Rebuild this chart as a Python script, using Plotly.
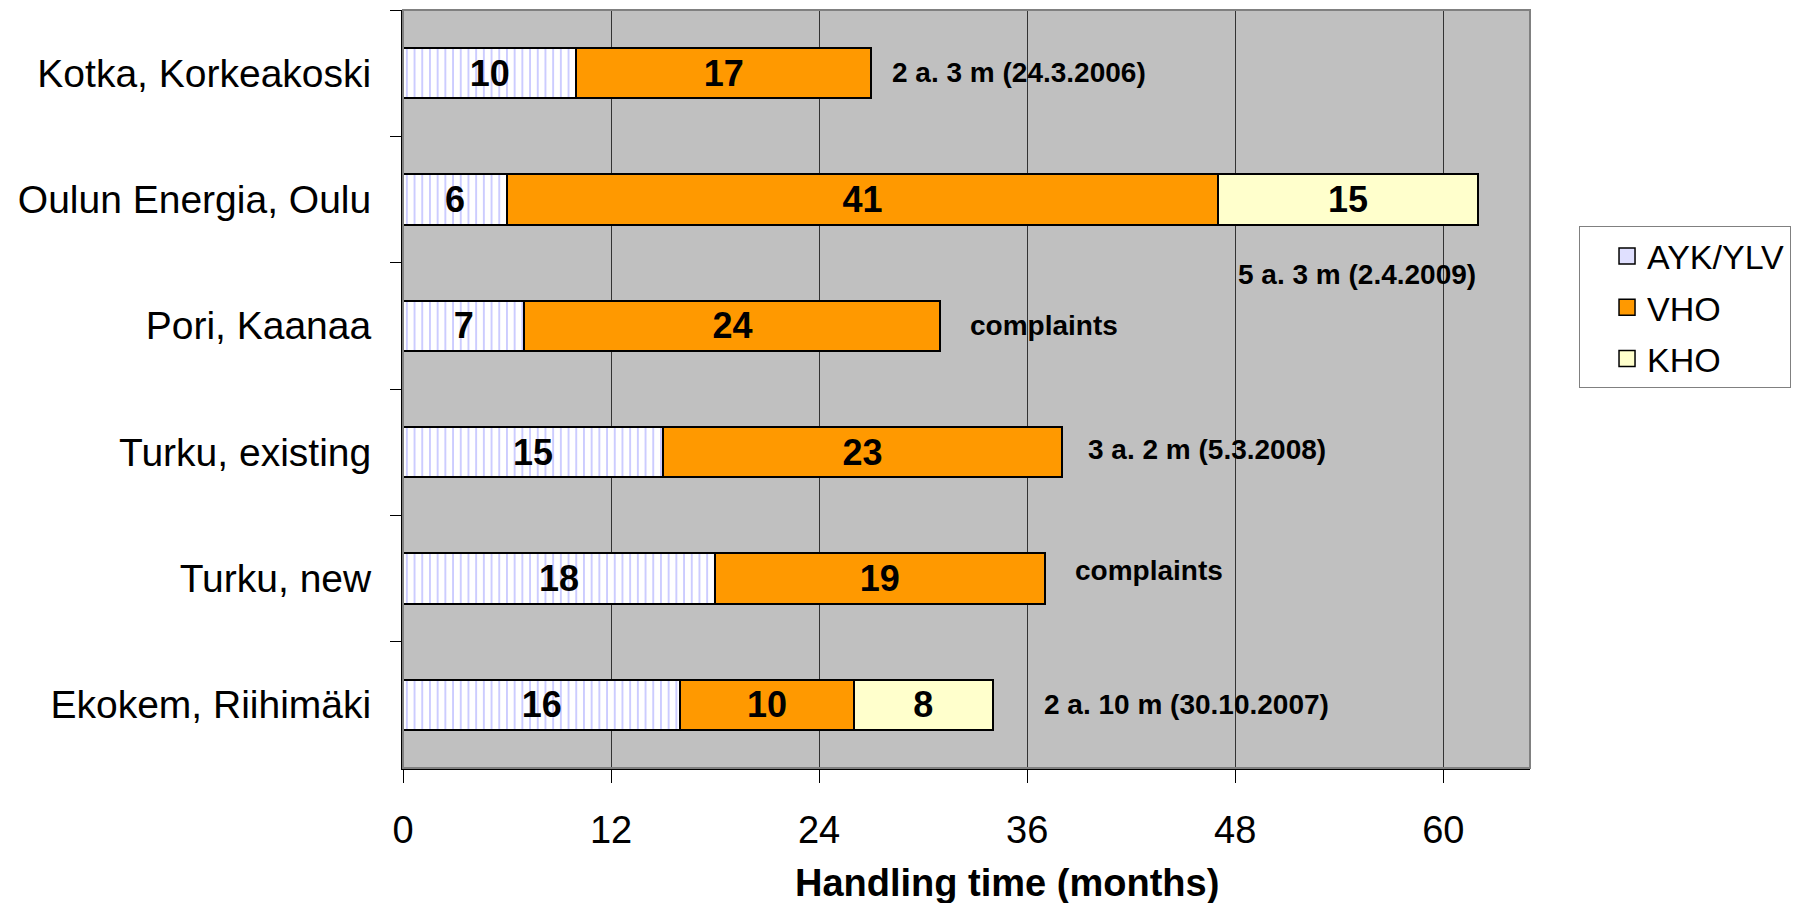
import plotly.graph_objects as go

categories = ["Kotka, Korkeakoski", "Oulun Energia, Oulu", "Pori, Kaanaa",
              "Turku, existing", "Turku, new", "Ekokem, Riihimäki"]
ayk_ylv = [10, 6, 7, 15, 18, 16]
vho = [17, 41, 24, 23, 19, 10]
kho = [None, 15, None, None, None, 8]
series_names = ["AYK/YLV", "VHO", "KHO"]
end_notes = ["2 a. 3 m (24.3.2006)", "5 a. 3 m (2.4.2009)", "complaints",
             "3 a. 2 m (5.3.2008)", "complaints", "2 a. 10 m (30.10.2007)"]
x_ticks = [0, 12, 24, 36, 48, 60]

FONT = "Liberation Sans, Arial, sans-serif"

fig = go.Figure()
common = dict(orientation="h", y=categories, texttemplate="%{x}",
              textposition="inside", insidetextanchor="middle",
              textfont=dict(family=FONT, size=36, color="black", weight="bold"),
              constraintext="none", showlegend=False)
fig.add_trace(go.Bar(name=series_names[0], x=ayk_ylv,
                     marker=dict(color="white", line=dict(color="black", width=2),
                                 pattern=dict(shape="|", fgcolor="#8080FF", bgcolor="white",
                                              size=7.7, solidity=0.2)),
                     **common))
fig.add_trace(go.Bar(name=series_names[1], x=vho,
                     marker=dict(color="#FF9900", line=dict(color="black", width=2)),
                     **common))
fig.add_trace(go.Bar(name=series_names[2], x=kho,
                     marker=dict(color="#FFFFCC", line=dict(color="black", width=2)),
                     **common))

# legend proxies (bigger square symbols than the bar legend icons)
legend_fill = ["#E0E0FF", "#FF9900", "#FFFFCC"]
for i, nm in enumerate(series_names):
    fig.add_trace(go.Scatter(name=nm, x=[None], y=[None], mode="markers",
                             legendgroup=nm, showlegend=True, hoverinfo="skip",
                             marker=dict(symbol="square", size=16, color=legend_fill[i],
                                         line=dict(color="black", width=1.5))))

# end-of-bar notes
note_style = [dict(xshift=19, yshift=1, xanchor="left"),
              dict(xshift=0, yshift=-75, xanchor="right"),
              dict(xshift=28, yshift=0, xanchor="left"),
              dict(xshift=24, yshift=3, xanchor="left"),
              dict(xshift=28, yshift=8, xanchor="left"),
              dict(xshift=49, yshift=0, xanchor="left")]
for i, cat in enumerate(categories):
    total = sum(v for v in (ayk_ylv[i], vho[i], kho[i]) if v is not None)
    fig.add_annotation(x=total, y=cat, text=end_notes[i], showarrow=False,
                       font=dict(family=FONT, size=28, color="black", weight="bold"),
                       yanchor="middle", **note_style[i])

fig.add_annotation(text="Handling time (months)", xref="paper", yref="paper",
                   x=0.536, y=-0.152, showarrow=False, xanchor="center", yanchor="middle",
                   font=dict(family=FONT, size=38, color="black", weight="bold"))

fig.add_shape(type="rect", xref="paper", yref="paper", x0=0, y0=0, x1=1, y1=1,
              line=dict(color="#808080", width=2), layer="above")

# page body has an 8px margin: figure placed so the plot area lands at 403..1530 x 10..768
fig.update_layout(
    width=1810, height=895,
    margin=dict(l=395, r=288, t=2, b=135),
    barmode="stack", bargap=0.6,
    plot_bgcolor="#C0C0C0", paper_bgcolor="white",
    font=dict(family=FONT, color="black"),
    showlegend=True,
    legend=dict(x=1.0435, y=0.7144, xanchor="left", yanchor="top",
                traceorder="grouped", tracegroupgap=4, indentation=27,
                entrywidth=170, entrywidthmode="pixels",
                bordercolor="#808080", borderwidth=1,
                font=dict(family=FONT, size=34, color="black"), bgcolor="white"),
    xaxis=dict(range=[0, 65], tickvals=x_ticks, ticks="outside", ticklen=13,
               tickcolor="black", showgrid=True, gridcolor="#333333", gridwidth=1,
               showline=True, linecolor="black", linewidth=2, zeroline=False,
               tickfont=dict(family=FONT, size=38, color="black"),
               ticklabelstandoff=14),
    yaxis=dict(categoryorder="array", categoryarray=categories, autorange="reversed",
               ticks="outside", ticklen=11, tickcolor="black", tickson="boundaries",
               showgrid=False, showline=True, linecolor="black", linewidth=2,
               tickfont=dict(family=FONT, size=39, color="black"),
               ticklabelstandoff=22),
)

fig.write_html("out.html")
